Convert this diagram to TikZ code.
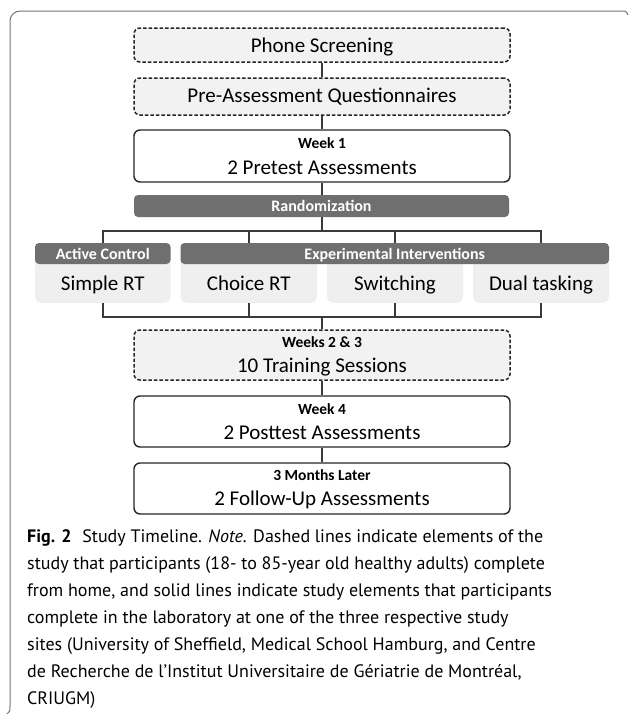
\documentclass[tikz,border=0pt]{standalone}
\usepackage{fontspec}
\setmainfont{Carlito}
\newfontfamily\capfont{PT Sans}
\definecolor{darkfill}{HTML}{6F6F6F}
\definecolor{bodyfill}{HTML}{EFEFEF}
\definecolor{homefill}{HTML}{F2F2F2}
\definecolor{lineclr}{HTML}{3A3A3A}
\begin{document}
\begin{tikzpicture}[x=1pt,y=-1pt,
  frameline/.style={draw=black!55, line width=1pt},
  homebox/.style={draw=black!85, dash pattern=on 3.5pt off 2pt, line width=1.5pt, fill=homefill, rounded corners=6pt, minimum width=376pt, inner sep=0pt},
  labbox/.style={draw=black!85, line width=1.4pt, fill=white, rounded corners=6pt, minimum width=376pt, inner sep=0pt},
  darkbar/.style={fill=darkfill, rounded corners=4pt, inner sep=0pt},
  armbody/.style={fill=bodyfill, rounded corners=7pt, inner sep=0pt, minimum height=50pt},
  conn/.style={draw=lineclr, line width=1.8pt},
  maintxt/.style={font=\fontsize{21}{24}\selectfont, anchor=base, inner sep=0pt},
  headtxt/.style={font=\bfseries\fontsize{15.5}{18}\selectfont, anchor=base, inner sep=0pt},
  bartxt/.style={font=\bfseries\fontsize{16}{18}\selectfont, text=white, anchor=base, inner sep=0pt},
  captxt/.style={font=\capfont\fontsize{18}{27}\selectfont, anchor=base west, inner sep=0pt}
]
\useasboundingbox (0,0) rectangle (629,715);
% frame
\draw[frameline, rounded corners=10pt] (10,706) -- (10,11) -- (622,11);
\draw[frameline] (622,11) .. controls (626,11) .. (628,15);
\draw[frameline] (10,706) .. controls (10,711) .. (7,714);

% top boxes
\node[homebox, minimum height=34pt] (ph) at (322,45) {};
\node[maintxt] (phT) at (322,52.5) {Phone Screening};
\node[homebox, minimum height=37pt] (pre) at (322,96.5) {};
\node[maintxt] (preT) at (322,102.5) {Pre-Assessment Questionnaires};
\node[labbox, minimum height=52pt] (w1) at (322,156) {};
\node[headtxt] (w1H) at (322,148.5) {Week 1};
\node[maintxt] (w1T) at (322,174) {2 Pretest Assessments};

% randomization
\node[darkbar, minimum width=375pt, minimum height=22pt] (rand) at (321.5,206) {};
\node[bartxt] (randT) at (321.5,211.5) {Randomization};

% arm bodies
\node[armbody, minimum width=135.5pt] (simple) at (102.75,278) {};
\node[armbody, minimum width=136.5pt] (choice) at (248.75,278) {};
\node[armbody, minimum width=136pt] (switch) at (395,278) {};
\node[armbody, minimum width=136pt] (dual) at (541,278) {};
\node[maintxt] (simpleT) at (102.75,290) {Simple RT};
\node[maintxt] (choiceT) at (248.75,290) {Choice RT};
\node[maintxt] (switchT) at (395,290) {Switching};
\node[maintxt] (dualT) at (541,290) {Dual tasking};

% headers
\node[darkbar, minimum width=135.5pt, minimum height=21pt] (acH) at (102.75,253.5) {};
\node[bartxt] (acHT) at (102.75,259) {Active Control};
\node[darkbar, minimum width=428.5pt, minimum height=21pt] (eiH) at (394.75,253.5) {};
\node[bartxt] (eiHT) at (394.75,259) {Experimental Interventions};

% lower boxes
\node[homebox, minimum height=50pt] (w23) at (322,355) {};
\node[headtxt] (w23H) at (322,347.5) {Weeks 2 \& 3};
\node[maintxt] (w23T) at (322,372.5) {10 Training Sessions};
\node[labbox, minimum height=51pt] (w4) at (322,421.5) {};
\node[headtxt] (w4H) at (322,414) {Week 4};
\node[maintxt] (w4T) at (322,439) {2 Posttest Assessments};
\node[labbox, minimum height=51pt] (m3) at (322,488.5) {};
\node[headtxt] (m3H) at (322,480.5) {3 Months Later};
\node[maintxt] (m3T) at (322,505.5) {2 Follow-Up Assessments};

% connectors
\coordinate (br) at (322,231);
\coordinate (mg) at (322,317);
\draw[conn] (ph.south) -- (pre.north);
\draw[conn] (pre.south) -- (w1.north);
\draw[conn] (w1.south) -- (rand.north -| w1.south);
\draw[conn] (rand.south -| br) -- (br);
\draw[conn] (simple.center |- acH.north) -- (simple.center |- br) -- (dual.center |- br) -- (dual.center |- eiH.north);
\draw[conn] (choice.center |- br) -- (choice.center |- eiH.north);
\draw[conn] (switch.center |- br) -- (switch.center |- eiH.north);
\draw[conn] (simple.south) -- (simple.south |- mg) -- (dual.south |- mg) -- (dual.south);
\draw[conn] (choice.south) -- (choice.south |- mg);
\draw[conn] (switch.south) -- (switch.south |- mg);
\draw[conn] (mg) -- (w23.north);
\draw[conn] (w23.south) -- (w4.north);
\draw[conn] (w4.south) -- (m3.north);

% caption
\node[captxt] (cap1) at (27,542) {\textbf{Fig. 2}\hspace{0.6em}Study Timeline. \textit{Note}. Dashed lines indicate elements of the};
\node[captxt] (cap2) at (27,569) {study that participants (18- to 85-year old healthy adults) complete};
\node[captxt] (cap3) at (27,596) {from home, and solid lines indicate study elements that participants};
\node[captxt] (cap4) at (27,623) {complete in the laboratory at one of the three respective study};
\node[captxt] (cap5) at (27,650) {sites (University of Sheffield, Medical School Hamburg, and Centre};
\node[captxt] (cap6) at (27,677) {de Recherche de l’Institut Universitaire de Gériatrie de Montréal,};
\node[captxt] (cap7) at (27,704) {CRIUGM)};
\end{tikzpicture}
\end{document}
